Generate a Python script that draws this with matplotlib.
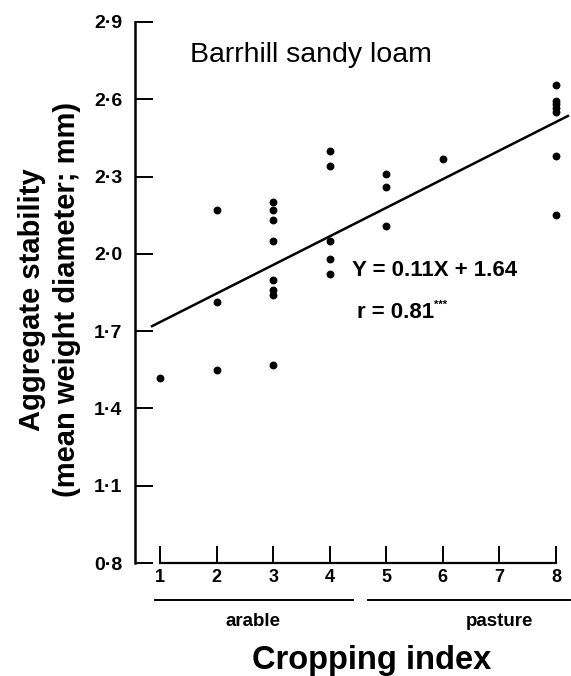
import matplotlib
matplotlib.use("Agg")
import matplotlib.pyplot as plt
import matplotlib.transforms as mtransforms

plt.rcParams["font.family"] = ["Liberation Sans", "DejaVu Sans"]

# --- data -----------------------------------------------------------
CROP_INDEX = [1,
              2, 2, 2,
              3, 3, 3, 3, 3, 3, 3, 3,
              4, 4, 4, 4, 4,
              5, 5, 5,
              6,
              8, 8, 8, 8, 8, 8, 8]
STABILITY = [1.52,
             2.17, 1.815, 1.55,
             2.20, 2.17, 2.13, 2.05, 1.90, 1.86, 1.84, 1.57,
             2.40, 2.34, 2.05, 1.98, 1.92,
             2.31, 2.26, 2.11,
             2.37,
             2.655, 2.595, 2.58, 2.565, 2.55, 2.38, 2.15]

SLOPE, INTERCEPT = 0.111, 1.624   # fitted line as drawn
LINE_X = [0.86, 8.21]

X_TICKS = [1, 2, 3, 4, 5, 6, 7, 8]
Y_TICKS = [0.8, 1.1, 1.4, 1.7, 2.0, 2.3, 2.6, 2.9]
Y_TICK_LABELS = ["0·8", "1·1", "1·4", "1·7", "2·0", "2·3", "2·6", "2·9"]

W, H = 571, 676


def fx(px):
    return px / W


def fy(py):
    return 1 - py / H


fig = plt.figure(figsize=(W / 100, H / 100), dpi=100)
ax = fig.add_axes([fx(135), fy(563), fx(436), (563 - 22) / H])

ax.scatter(CROP_INDEX, STABILITY, s=32, color="black", zorder=3, linewidths=0)
ax.plot(LINE_X, [SLOPE * x + INTERCEPT for x in LINE_X], color="black", lw=1.8)

ax.set_xlim(0.558, 8.265)
ax.set_ylim(0.8, 2.9)

for side in ("top", "right"):
    ax.spines[side].set_visible(False)
ax.spines["left"].set_linewidth(1.8)
ax.spines["bottom"].set_linewidth(1.6)
ax.spines["bottom"].set_bounds(1, 8)

ax.set_xticks(X_TICKS)
ax.set_xticklabels([str(x) for x in X_TICKS], fontsize=13, fontweight="bold")
ax.set_yticks(Y_TICKS)
ax.set_yticklabels(Y_TICK_LABELS, fontsize=14, fontweight="bold")
ax.tick_params(axis="y", direction="in", length=13, width=1.4, pad=9)
ax.tick_params(axis="x", direction="in", length=12, width=1.4, pad=4)

# texts in the plot
fig.text(fx(190), fy(55), "Barrhill sandy loam", fontsize=20.5, ha="left", va="center")
fig.text(fx(352), fy(271), "Y = 0.11X + 1.64", fontsize=16, fontweight="bold",
         ha="left", va="center")
r_txt = fig.text(fx(357), fy(312), "r = 0.81", fontsize=16, fontweight="bold",
                 ha="left", va="center")
ax.annotate("***", xy=(1, 0.85), xycoords=r_txt, fontsize=8, fontweight="bold",
            ha="left", va="center")

# y label, two lines
fig.text(fx(32), fy(300), "Aggregate stability", fontsize=21, fontweight="bold",
         rotation=90, ha="center", va="center")
fig.text(fx(67), fy(299), "(mean weight diameter; mm)", fontsize=21,
         fontweight="bold", rotation=90, ha="center", va="center")

# arable / pasture groups under the x axis
trans = mtransforms.blended_transform_factory(ax.transData, fig.transFigure)
ax.plot([0.91, 4.41], [fy(600)] * 2, color="black", lw=1.4, transform=trans,
        clip_on=False)
ax.plot([4.68, 8.25], [fy(600)] * 2, color="black", lw=1.4, transform=trans,
        clip_on=False)
fig.text(fx(253), fy(622), "arable", fontsize=13.5, fontweight="bold",
         ha="center", va="center")
fig.text(fx(500), fy(622), "pasture", fontsize=13.5, fontweight="bold",
         ha="center", va="center")
fig.text(fx(372), fy(660), "Cropping index", fontsize=23.5, fontweight="bold",
         ha="center", va="center")

fig.savefig("out.png", dpi=100)
